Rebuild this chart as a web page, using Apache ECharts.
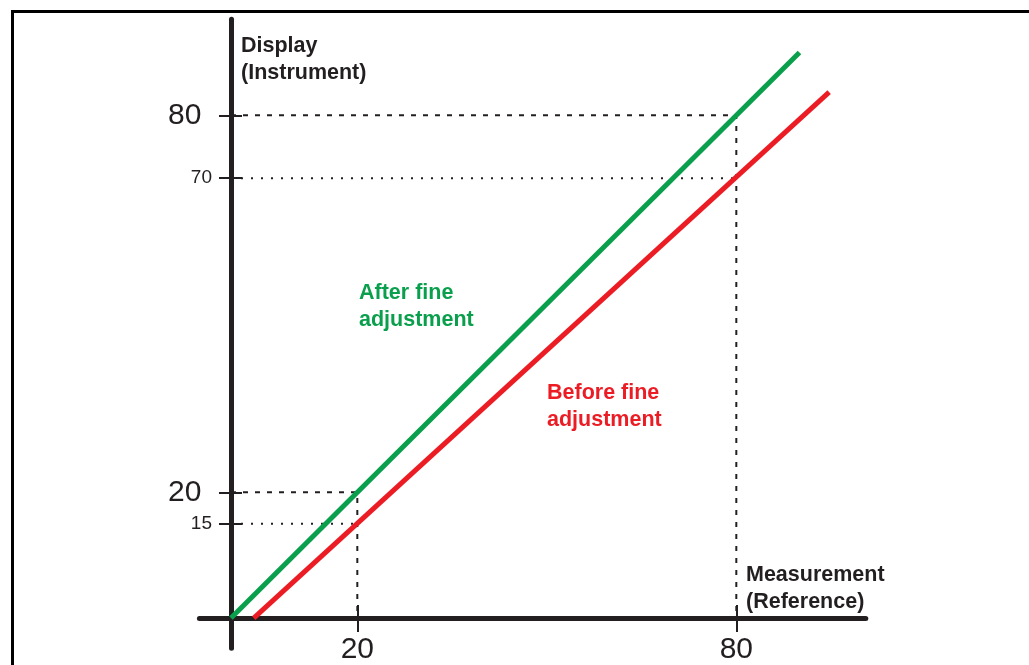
<!DOCTYPE html>
<html>
<head>
<meta charset="utf-8">
<script src="https://cdn.jsdelivr.net/npm/echarts@6/dist/echarts.min.js"></script>
<style>html,body{margin:0;padding:0;background:#fff;}#c{width:1029px;height:665px;}</style>
</head>
<body>
<div id="c"></div>
<script>
// ---- data ----
var afterX = [0, 90];
var afterY = [0, 90];
var beforeX = [3.6, 94.7];
var beforeY = [0, 83.7];
var refMeasure = [20, 80];          // reference values on x axis
var refAfter = [20, 80];            // displayed values after adjustment
var refBefore = [15, 70];           // displayed values before adjustment
var xTicks = [20, 80];
var yTicks = [15, 20, 70, 80];
var yBigLabels = [20, 80];
var ySmallLabels = [15, 70];

var INK = '#231f20';
var GREEN = '#0a9f4c';
var RED = '#ec1c24';

function pairs(xs, ys) { return xs.map(function (x, i) { return [x, ys[i]]; }); }
function refPath(x, y) { return [[0, y], [x, y], [x, 0]]; }
function hPath(x, y) { return [[0, y], [x, y]]; }

var series = [];
refMeasure.forEach(function (m, i) {
  series.push({ type: 'line', data: refPath(m, refAfter[i]), symbol: 'none', silent: true, z: 1,
    lineStyle: { color: INK, width: 2, type: [5, 7] } });
  series.push({ type: 'line', data: hPath(m, refBefore[i]), symbol: 'none', silent: true, z: 1,
    lineStyle: { color: INK, width: 2, type: [2, 8] } });
});
series.push({ type: 'line', name: 'After fine adjustment', data: pairs(afterX, afterY), symbol: 'none', z: 3,
  lineStyle: { color: GREEN, width: 5, cap: 'butt' } });
series.push({ type: 'line', name: 'Before fine adjustment', data: pairs(beforeX, beforeY), symbol: 'none', z: 3,
  lineStyle: { color: RED, width: 5, cap: 'butt' } });

var chart = echarts.init(document.getElementById('c'), null, { renderer: 'canvas' });
var xBase = { type: 'value', min: -5, max: 100.5, splitLine: { show: false }, position: 'bottom' };
var yBase = { type: 'value', min: -4.8, max: 95.3, splitLine: { show: false }, position: 'left' };
var boldFont = 'bold 21.5px "Liberation Sans"';
chart.setOption({
  animation: false,
  backgroundColor: '#fff',
  grid: { left: 199.4, top: 19.2, width: 666.4, height: 629, containLabel: false, outerBoundsMode: 'none' },
  xAxis: [
    Object.assign({}, xBase, {
      axisLine: { show: true, onZero: true, lineStyle: { color: INK, width: 5 } },
      axisTick: { show: true, inside: false, length: 14, customValues: xTicks, lineStyle: { color: INK, width: 2 } },
      axisLabel: { show: true, customValues: xTicks, fontSize: 30, fontFamily: 'Liberation Sans', color: INK, margin: -13 }
    }),
    Object.assign({}, xBase, {
      axisLine: { show: false, onZero: true, onZeroAxisIndex: 0 },
      axisTick: { show: true, inside: true, length: 13, customValues: xTicks, lineStyle: { color: INK, width: 2 } },
      axisLabel: { show: false }
    })
  ],
  yAxis: [
    Object.assign({}, yBase, {
      axisLine: { show: true, onZero: true, lineStyle: { color: INK, width: 5 } },
      axisTick: { show: true, inside: false, length: 12, customValues: yTicks, lineStyle: { color: INK, width: 2 } },
      axisLabel: { show: true, customValues: yBigLabels, fontSize: 30, fontFamily: 'Liberation Sans', color: INK, margin: -2 }
    }),
    Object.assign({}, yBase, {
      axisLine: { show: false, onZero: true, onZeroAxisIndex: 0 },
      axisTick: { show: true, inside: true, length: 11, customValues: yTicks, lineStyle: { color: INK, width: 2 } },
      axisLabel: { show: true, customValues: ySmallLabels, fontSize: 19, fontFamily: 'Liberation Sans', color: INK, margin: -12.6 }
    })
  ],
  series: series,
  graphic: [
    { type: 'polyline', silent: true, shape: { points: [[12.5, 665], [12.5, 11.5], [1029, 11.5]] },
      style: { stroke: '#000', lineWidth: 3, fill: null } },
    { type: 'text', left: 241, top: 33, style: { text: 'Display\n(Instrument)', font: boldFont, fill: INK, lineHeight: 27 } },
    { type: 'text', left: 746, top: 562, style: { text: 'Measurement\n(Reference)', font: boldFont, fill: INK, lineHeight: 27 } },
    { type: 'text', left: 359, top: 280, style: { text: 'After fine\nadjustment', font: boldFont, fill: GREEN, lineHeight: 27 } },
    { type: 'text', left: 547, top: 380, style: { text: 'Before fine\nadjustment', font: boldFont, fill: RED, lineHeight: 27 } }
  ]
});
</script>
</body>
</html>
